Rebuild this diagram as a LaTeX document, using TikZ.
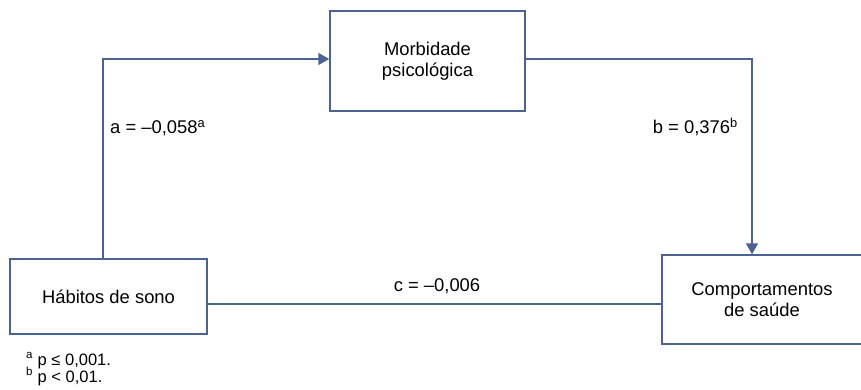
\documentclass[tikz,border=0pt]{standalone}
\usepackage{fontspec}
\setmainfont{Liberation Sans}
\usetikzlibrary{arrows.meta}
\definecolor{lineblue}{RGB}{76,98,145}
\begin{document}
\begin{tikzpicture}[x=1pt,y=-1pt,
  box/.style={draw=lineblue,line width=1.4pt,fill=white,inner sep=0pt,align=center,
    font=\fontsize{18.4}{21.5}\selectfont},
  conn/.style={draw=lineblue,line width=1.4pt},
  arr/.style={-{Triangle[length=11pt,width=12pt]}},
  lbl/.style={font=\fontsize{18.4}{21.5}\selectfont,inner sep=0pt},
  foot/.style={font=\fontsize{16.5}{16}\selectfont,inner sep=0pt,align=left}]
\useasboundingbox (0,0) rectangle (861,390);
\node[box,minimum width=195pt,minimum height=100pt] (m) at (427.5,61) {Morbidade\\psicológica};
\node[box,minimum width=197pt,minimum height=75pt] (h) at (108.5,296.5) {Hábitos de sono};
\node[box,minimum width=200pt,minimum height=89pt] (c) at (762,299.5) {Comportamentos\\de saúde};
\coordinate (tl) at (103,59);
\coordinate (tr) at (752,59);
\draw[conn,arr] (h.north -| tl) -- (tl) -- (m.west |- tl);
\draw[conn,arr] (m.east |- tr) -- (tr) -- (c.north -| tr);
\draw[conn] (h.east |- 0,304) -- (c.west |- 0,304);
\node[lbl,anchor=base west] (la) at (110,134) {a = –0,058\textsuperscript{a}};
\node[lbl,anchor=base east] (lb) at (738,134) {b = 0,376\textsuperscript{b}};
\node[lbl,anchor=base] (lc) at (437,291) {c = –0,006};
\node[foot,anchor=base west] (f1) at (26,365) {\textsuperscript{a} p ≤ 0,001.};
\node[foot,anchor=base west] (f2) at (26,382) {\textsuperscript{b} p < 0,01.};
\end{tikzpicture}
\end{document}
